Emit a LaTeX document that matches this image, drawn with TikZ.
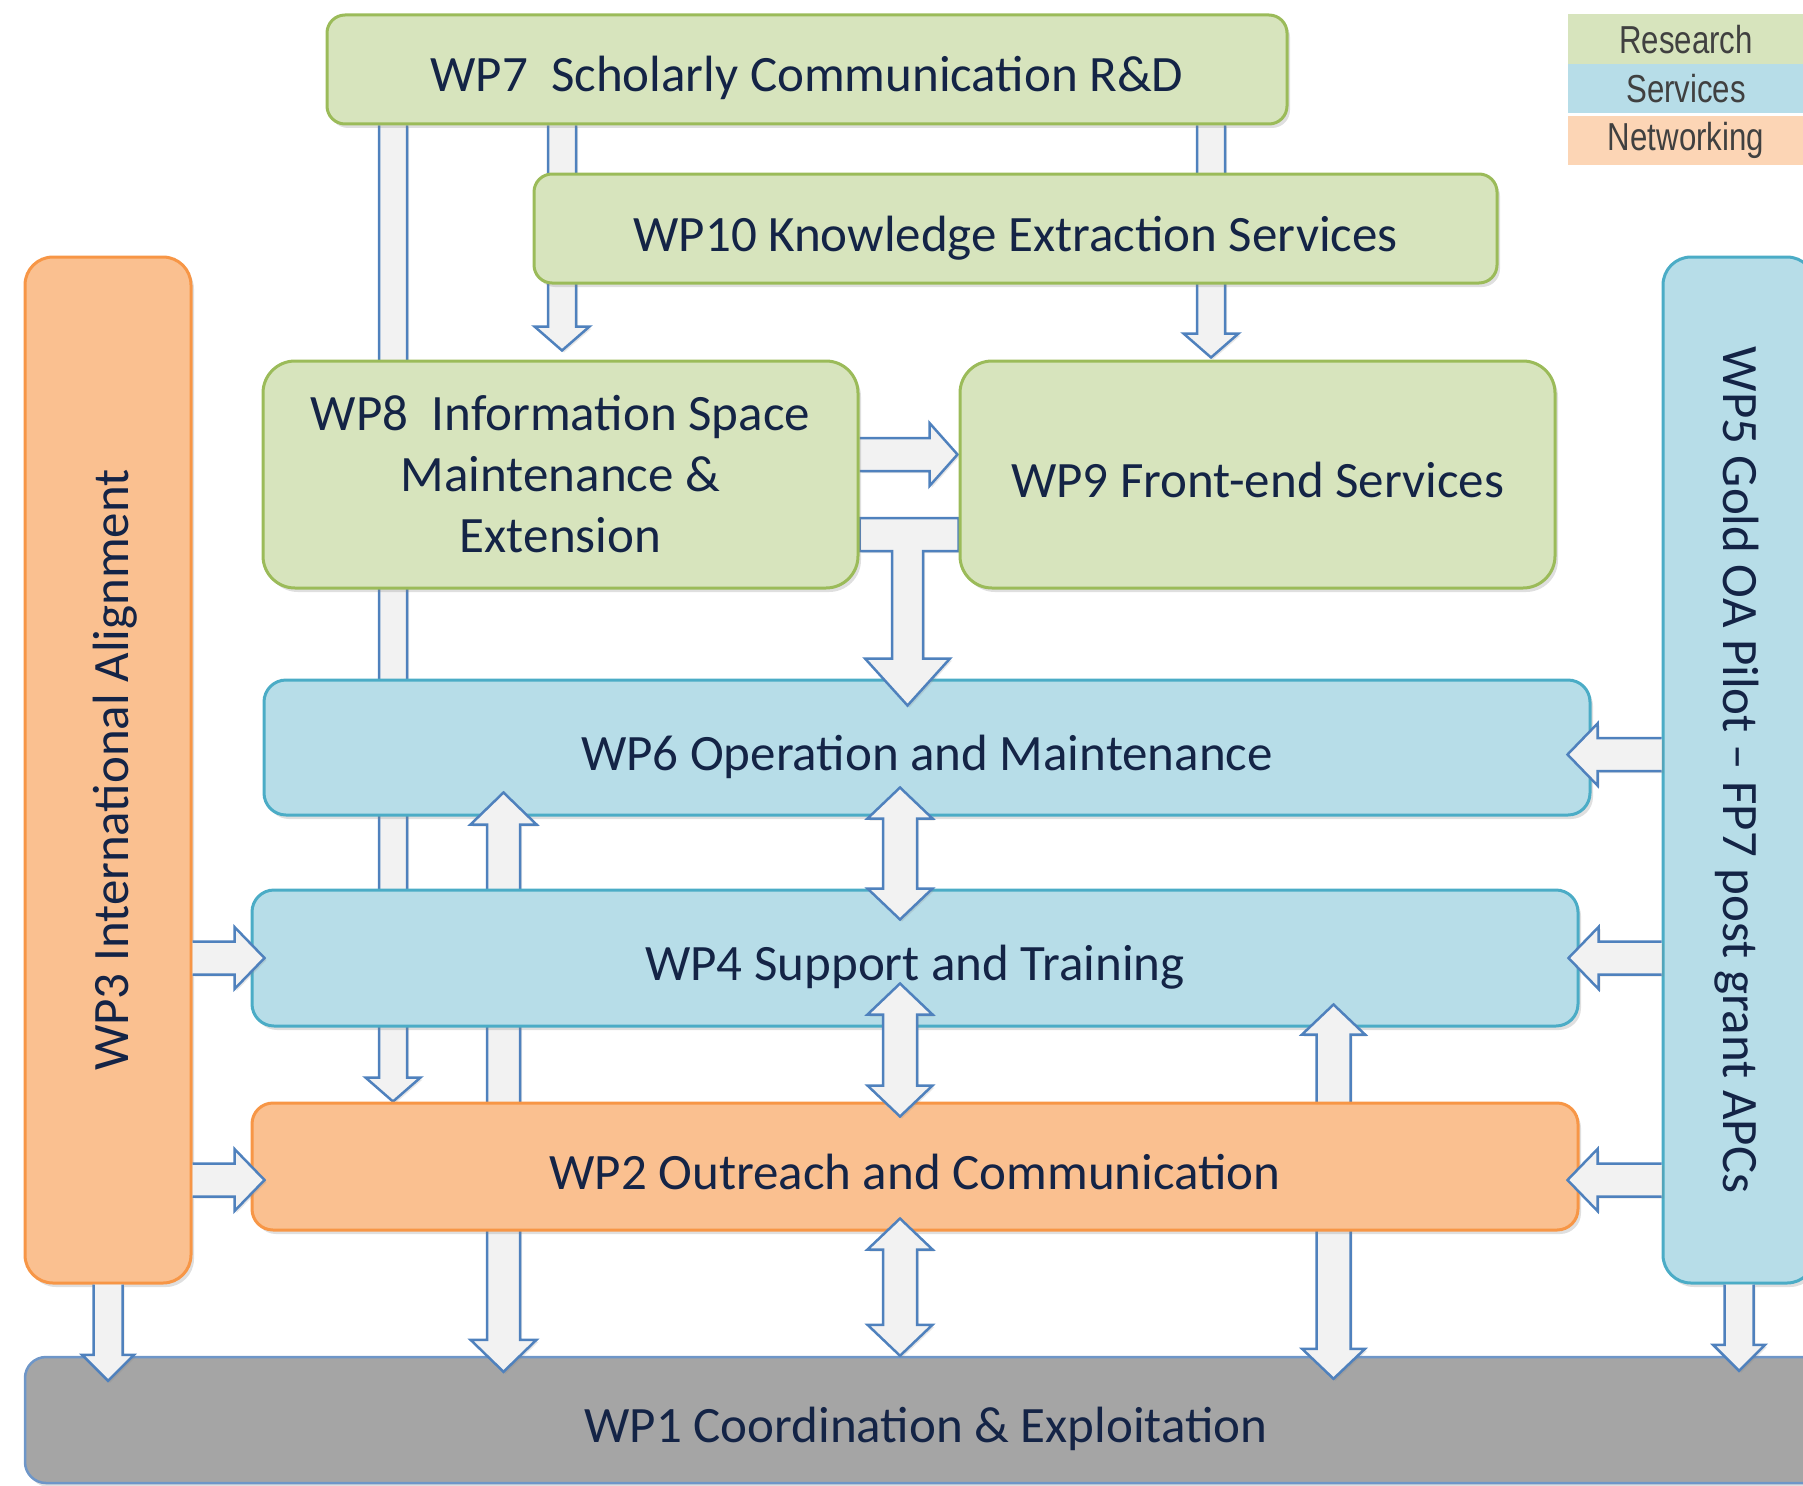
\documentclass[tikz,border=0pt]{standalone}
\usepackage{fontspec}
\setmainfont{Carlito}
\newfontfamily\legendfont{Liberation Sans}
\usepackage{graphicx}
\usepackage{tikz}
\usetikzlibrary{calc,shadows}
\usepackage{xcolor}
\definecolor{research-green}{RGB}{215,228,189}
\definecolor{research-line}{RGB}{155,187,89}
\definecolor{services-blue}{RGB}{183,221,232}
\definecolor{services-line}{RGB}{75,172,198}
\definecolor{networking-orange}{RGB}{250,192,144}
\definecolor{networking-line}{RGB}{247,150,70}
\definecolor{coord-grey}{RGB}{165,165,165}
\definecolor{coord-line}{RGB}{110,150,200}
\definecolor{key-orange}{RGB}{252,213,181}
\definecolor{key-text}{RGB}{64,64,64}
\definecolor{arrow-fill}{RGB}{242,242,242}
\definecolor{arrow-line}{RGB}{79,129,189}
\definecolor{wp-text}{RGB}{20,36,70}
\tikzstyle{wp}=[draw, line width=3pt, inner sep=0pt, align=center, text=wp-text, font=\fontsize{51}{61}\selectfont, drop shadow={shadow xshift=3pt, shadow yshift=-4pt, opacity=0.25}]
\tikzstyle{oneline}=[text height=45pt, text depth=0pt]
\tikzstyle{research}=[wp, fill=research-green, draw=research-line]
\tikzstyle{services}=[wp, fill=services-blue, draw=services-line]
\tikzstyle{networking}=[wp, fill=networking-orange, draw=networking-line]
\tikzstyle{coordination}=[wp, fill=coord-grey, draw=coord-line, line width=2.5pt]
\tikzstyle{key}=[inner sep=0pt, minimum width=236pt, text=key-text, font=\legendfont\fontsize{39}{39}\selectfont]
\tikzstyle{blockarrow}=[fill=arrow-fill, draw=arrow-line, line width=2.5pt, line join=miter, drop shadow={shadow xshift=2pt, shadow yshift=-2pt, opacity=0.2}]
% block arrows: tail, tip, how far the tip runs into the target
\newcommand{\blkdown}[3]{%
  \filldraw[blockarrow] ($#1+(-\blkshaft,0)$) -- ($#2+(-\blkshaft,#3-\blklen)$) -- ($#2+(-\blkhead,#3-\blklen)$) -- ($#2+(0,#3)$) -- ($#2+(\blkhead,#3-\blklen)$) -- ($#2+(\blkshaft,#3-\blklen)$) -- ($#1+(\blkshaft,0)$);}
\newcommand{\blkright}[3]{%
  \filldraw[blockarrow] ($#1+(0,-\blkshaft)$) -- ($#2+(#3-\blklen,-\blkshaft)$) -- ($#2+(#3-\blklen,-\blkhead)$) -- ($#2+(#3,0)$) -- ($#2+(#3-\blklen,\blkhead)$) -- ($#2+(#3-\blklen,\blkshaft)$) -- ($#1+(0,\blkshaft)$);}
\newcommand{\blkleft}[3]{%
  \filldraw[blockarrow] ($#1+(0,-\blkshaft)$) -- ($#2+(\blklen-#3,-\blkshaft)$) -- ($#2+(\blklen-#3,-\blkhead)$) -- ($#2+(0-#3,0)$) -- ($#2+(\blklen-#3,\blkhead)$) -- ($#2+(\blklen-#3,\blkshaft)$) -- ($#1+(0,\blkshaft)$);}
\newcommand{\blkboth}[4]{%
  \filldraw[blockarrow] ($#1+(0,0-#3)$) -- ($#1+(\blkhead,\blklen-#3)$) -- ($#1+(\blkshaft,\blklen-#3)$) -- ($#2+(\blkshaft,#4-\blklen)$) -- ($#2+(\blkhead,#4-\blklen)$) -- ($#2+(0,#4)$) -- ($#2+(-\blkhead,#4-\blklen)$) -- ($#2+(-\blkshaft,#4-\blklen)$) -- ($#1+(-\blkshaft,\blklen-#3)$) -- ($#1+(-\blkhead,\blklen-#3)$) -- cycle;}
\pgfdeclarelayer{behind}
\pgfdeclarelayer{over6}
\pgfdeclarelayer{box4}
\pgfdeclarelayer{over4}
\pgfdeclarelayer{box2}
\pgfdeclarelayer{front}
\pgfsetlayers{behind,main,over6,box4,over4,box2,front}

\begin{document}
\begin{tikzpicture}[x=1pt, y=-1pt]
	\useasboundingbox (0,0) rectangle (1803,1485);
	% lanes of the block arrows
	\coordinate (lane2) at (393,0);
	\coordinate (lane8) at (562,0);
	\coordinate (lane9) at (1211,0);
	\coordinate (lane6) at (503.5,0);
	\coordinate (lane4) at (1333.5,0);
	\coordinate (lanemid) at (900,0);
	\coordinate (row9) at (0,454.5);
	\coordinate (row6) at (0,754.5);
	\coordinate (row2) at (0,1180);
	\coordinate (tee) at (907.5,534.5);
	% work packages
	\node[research, oneline, minimum width=960pt, minimum height=109pt, rounded corners=18pt] (wp7) at (807,69.5) {WP7\ \ Scholarly Communication R\&D};
	\node[research, oneline, minimum width=963pt, minimum height=109pt, rounded corners=18pt] (wp10) at (1015.5,228.5) {WP10 Knowledge Extraction Services};
	\node[services, oneline, minimum width=1326pt, minimum height=135pt, rounded corners=22pt] (wp6) at (927,747.5) {WP6 Operation and Maintenance};
	\node[coordination, oneline, minimum width=1802pt, minimum height=126pt, rounded corners=21pt] (wp1) at (926,1420) {WP1 Coordination \& Exploitation};
	\node[networking, minimum width=166pt, minimum height=1026pt, rounded corners=28pt] (wp3) at (108,770) {\rotatebox{90}{\raisebox{0pt}[40pt][0pt]{WP3 International Alignment}}};
	\node[services, minimum width=152pt, minimum height=1026pt, rounded corners=28pt] (wp5) at (1739,770) {\rotatebox{-90}{\raisebox{0pt}[32pt][0pt]{WP5 Gold OA Pilot – FP7 post grant APCs}}};
	\begin{pgfonlayer}{box4}
	\node[research, minimum width=595pt, minimum height=227pt, rounded corners=32pt] (wp8) at (560.5,474.5) {WP8\ \ Information Space\\Maintenance \&\\Extension};
	\node[research, oneline, minimum width=595pt, minimum height=227pt, rounded corners=32pt] (wp9) at (1257.5,474.5) {WP9 Front-end Services};
	\node[services, oneline, minimum width=1326pt, minimum height=136pt, rounded corners=22pt] (wp4) at (915,958) {WP4 Support and Training};
	\end{pgfonlayer}
	\begin{pgfonlayer}{box2}
	\node[networking, oneline, minimum width=1326pt, minimum height=127pt, rounded corners=21pt] (wp2) at (915,1166.5) {WP2 Outreach and Communication};
	\end{pgfonlayer}
	% legend
	\node[key, fill=research-green, minimum height=51pt] (key-research) at (1686,39.5) {\scalebox{0.8}[1]{Research}};
	\node[key, fill=services-blue, minimum height=49pt] (key-services) at (1686,89) {\scalebox{0.8}[1]{Services}};
	\node[key, fill=key-orange, minimum height=49pt] (key-networking) at (1686,140.5) {\scalebox{0.8}[1]{Networking}};
	% arrows under the boxes
	\begin{pgfonlayer}{behind}
	\def\blkshaft{14}\def\blkhead{27.5}\def\blklen{24}
	\blkdown{(wp7.south -| lane2)}{(wp2.north -| lane2)}{0}
	\blkdown{(wp7.south -| lane8)}{(wp8.north -| lane8)}{-9}
	\blkdown{(wp7.south -| lane9)}{(wp9.north -| lane9)}{-2}
	\def\blkshaft{16.5}\def\blkhead{31.5}\def\blklen{28}
	\blkright{(wp8.east |- row9)}{(wp9.west |- row9)}{-1}
	\end{pgfonlayer}
	\begin{pgfonlayer}{over6}
	\filldraw[blockarrow] ($(wp8.east |- tee)+(0,-16.5)$) -- ($(wp9.west |- tee)+(0,-16.5)$) -- ($(wp9.west |- tee)+(0,16.5)$) -- ($(tee)+(15.5,16.5)$) -- ($(wp6.north -| tee)+(15.5,-20)$) -- ($(wp6.north -| tee)+(42.5,-20)$) -- ($(wp6.north -| tee)+(0,27)$) -- ($(wp6.north -| tee)+(-42.5,-20)$) -- ($(wp6.north -| tee)+(-15.5,-20)$) -- ($(tee)+(-15.5,16.5)$) -- ($(wp8.east |- tee)+(0,16.5)$) -- cycle;
	\def\blkshaft{16.5}\def\blkhead{33}\def\blklen{32}
	\blkboth{(wp6.south -| lane6)}{(wp1.north -| lane6)}{24}{16}
	\end{pgfonlayer}
	\begin{pgfonlayer}{over4}
	\def\blkshaft{17}\def\blkhead{31.5}\def\blklen{30}
	\blkboth{(wp4.south -| lane4)}{(wp1.north -| lane4)}{23}{23}
	\end{pgfonlayer}
	% arrows on top
	\begin{pgfonlayer}{front}
	\def\blkshaft{17}\def\blkhead{32.5}\def\blklen{31}
	\blkboth{(wp6.south -| lanemid)}{(wp4.north -| lanemid)}{29}{31}
	\blkboth{(wp4.south -| lanemid)}{(wp2.north -| lanemid)}{44}{15}
	\blkboth{(wp2.south -| lanemid)}{(wp1.north -| lanemid)}{13}{0}
	\def\blkshaft{16.5}\def\blkhead{31}\def\blklen{30}
	\blkright{(wp3.east |- wp4.west)}{(wp4.west)}{14}
	\blkright{(wp3.east |- row2)}{(wp2.west |- row2)}{14}
	\blkleft{(wp5.west |- row6)}{(wp6.east |- row6)}{24}
	\blkleft{(wp5.west |- wp4.east)}{(wp4.east)}{11}
	\blkleft{(wp5.west |- row2)}{(wp2.east |- row2)}{12}
	\def\blkshaft{14.5}\def\blkhead{26}\def\blklen{26}
	\blkdown{(wp3.south)}{(wp1.north -| wp3.south)}{25}
	\blkdown{(wp5.south)}{(wp1.north -| wp5.south)}{15}
	\end{pgfonlayer}
\end{tikzpicture}
\end{document}
